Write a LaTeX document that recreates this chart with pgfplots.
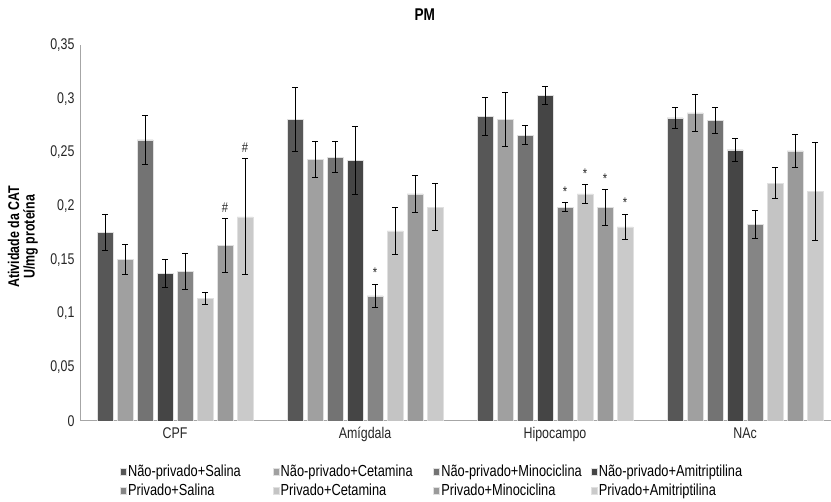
\documentclass[border=0pt]{standalone}
\usepackage{pgfplots}
\pgfplotsset{compat=1.18}
\usepackage{fontspec}
\setmainfont{Liberation Sans}[FakeStretch=0.8]
\definecolor{c1}{HTML}{575757}
\definecolor{c2}{HTML}{A0A0A0}
\definecolor{c3}{HTML}{737373}
\definecolor{c4}{HTML}{454545}
\definecolor{c5}{HTML}{858585}
\definecolor{c6}{HTML}{C4C4C4}
\definecolor{c7}{HTML}{9A9A9A}
\definecolor{c8}{HTML}{CACACA}
\definecolor{axgray}{HTML}{A6A6A6}
\begin{document}
\begin{tikzpicture}
\useasboundingbox (0,0) rectangle (831bp,502bp);
\begin{axis}[
  at={(80bp,81bp)}, anchor=south west,
  scale only axis, width=751bp, height=376bp,
  ybar=4bp, bar width=16bp,
  xmin=-0.5, xmax=3.4526, ymin=0, ymax=0.35,
  axis x line*=bottom, axis y line*=left,
  axis line style={-, axgray, line width=1bp},
  major tick length=0,
  xtick={0,1,2,3}, xticklabels={CPF,Amígdala,Hipocampo,NAc},
  ytick={0,0.05,0.1,0.15,0.2,0.25,0.3,0.35},
  yticklabels={0,{0,05},{0,1},{0,15},{0,2},{0,25},{0,3},{0,35}},
  tick label style={font=\fontsize{15.5bp}{17bp}\selectfont, text=black!85},
  xticklabel style={yshift=-3bp},
  yticklabel style={xshift=-2bp},
  ylabel={Atividade da CAT\\U/mg proteína},
  ylabel style={at={(axis description cs:-0.0759,0.49)}, anchor=center, align=center, font=\fontsize{15.5bp}{15.5bp}\selectfont\bfseries},
  title={PM},
  title style={at={(axis description cs:0.459,1.066)}, anchor=center, font=\fontsize{17bp}{19bp}\selectfont\bfseries},
  every axis plot/.append style={draw=white!88!black, line width=0.6bp,
    error bars/error bar style={black, line width=0.9bp},
    error bars/error mark options={rotate=90, mark size=3bp, black, line width=0.9bp}},
  error bars/y dir=both, error bars/y explicit,
  legend image code/.code={\fill[#1] (0bp,-3.5bp) rectangle (6bp,3.5bp);},
  legend columns=4, legend cell align=left,
  legend style={at={(axis description cs:0.049,-0.108)}, anchor=north west, draw=none,
    font=\fontsize{16bp}{17bp}\selectfont, row sep=3bp,
    nodes={inner sep=1.5bp}, /tikz/every even column/.append style={column sep=0bp}},
  visualization depends on={\thisrow{e} \as \myerr},
  every node near coord/.append style={anchor=center, font=\fontsize{14bp}{14bp}\selectfont, text=black!85,
    yshift={\myerr*1074.3bp+11bp}},
]
\addplot[fill=c1] table[x=x,y=y,y error=e,col sep=comma] {
x,y,e
0,0.1757,0.017
1,0.2809,0.030
2,0.2834,0.018
3,0.2821,0.010
};
\addlegendentry{\makebox[143bp][l]{Não-privado+Salina}}
\addplot[fill=c2] table[x=x,y=y,y error=e,col sep=comma] {
x,y,e
0,0.1505,0.014
1,0.2436,0.0165
2,0.2809,0.025
3,0.2868,0.017
};
\addlegendentry{\makebox[151bp][l]{Não-privado+Cetamina}}
\addplot[fill=c3] table[x=x,y=y,y error=e,col sep=comma] {
x,y,e
0,0.2616,0.0227
1,0.2455,0.0145
2,0.266,0.009
3,0.280,0.012
};
\addlegendentry{\makebox[148bp][l]{Não-privado+Minociclina}}
\addplot[fill=c4] table[x=x,y=y,y error=e,col sep=comma] {
x,y,e
0,0.1372,0.013
1,0.2424,0.0316
2,0.3029,0.0087
3,0.2523,0.011
};
\addlegendentry{Não-privado+Amitriptilina}
\addplot[fill=c5, nodes near coords, point meta=explicit symbolic] table[x=x,y=y,y error=e,meta=lab,col sep=comma] {
x,y,e,lab
0,0.1394,0.017,
1,0.1164,0.011,*
2,0.199,0.0043,*
3,0.1828,0.013,
};
\addlegendentry{\makebox[143bp][l]{Privado+Salina}}
\addplot[fill=c6, nodes near coords, point meta=explicit symbolic] table[x=x,y=y,y error=e,meta=lab,col sep=comma] {
x,y,e,lab
0,0.1142,0.0053,
1,0.1769,0.022,
2,0.2114,0.0087,*
3,0.2213,0.0146,
};
\addlegendentry{\makebox[151bp][l]{Privado+Cetamina}}
\addplot[fill=c7, nodes near coords, point meta=explicit symbolic] table[x=x,y=y,y error=e,meta=lab,col sep=comma] {
x,y,e,lab
0,0.1636,0.025,\#
1,0.2114,0.017,
2,0.199,0.0167,*
3,0.2514,0.0155,
};
\addlegendentry{\makebox[148bp][l]{Privado+Minociclina}}
\addplot[fill=c8, nodes near coords, point meta=explicit symbolic] table[x=x,y=y,y error=e,meta=lab,col sep=comma] {
x,y,e,lab
0,0.190,0.054,\#
1,0.199,0.022,
2,0.1806,0.012,*
3,0.2135,0.0456,
};
\addlegendentry{Privado+Amitriptilina}
\end{axis}
\end{tikzpicture}
\end{document}
